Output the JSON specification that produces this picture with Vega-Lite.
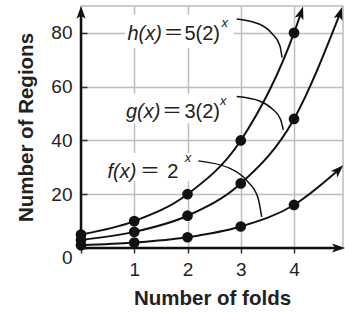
{
  "$schema": "https://vega.github.io/schema/vega-lite/v6.json",
  "width": 262,
  "height": 242,
  "autosize": "none",
  "padding": {"left": 81, "top": 6, "right": 2, "bottom": 64},
  "background": "white",
  "config": {
    "font": "Liberation Sans",
    "view": {"stroke": "#bdbdbd", "strokeWidth": 1.5},
    "axis": {
      "gridColor": "#bdbdbd", "gridWidth": 1.5, "gridOpacity": 1, "domain": false,
      "labelFont": "Liberation Sans", "labelFontSize": 19, "labelColor": "#222",
      "tickColor": "#333", "tickWidth": 1.5,
      "titleFont": "Liberation Sans", "titleFontSize": 20.5, "titleFontWeight": "bold", "titleColor": "#222",
      "labelOverlap": false, "labelFlush": false
    }
  },
  "datasets": {
    "curve": [
      {"fn": "h", "x": 0, "y": 5, "kind": "pt"},
      {"fn": "h", "x": 1, "y": 10, "kind": "pt"},
      {"fn": "h", "x": 2, "y": 20, "kind": "pt"},
      {"fn": "h", "x": 3, "y": 40, "kind": "pt"},
      {"fn": "h", "x": 4, "y": 80, "kind": "pt"},
      {"fn": "h", "x": 4.126, "y": 87.1, "kind": "end"},
      {"fn": "g", "x": 0, "y": 3, "kind": "pt"},
      {"fn": "g", "x": 1, "y": 6, "kind": "pt"},
      {"fn": "g", "x": 2, "y": 12, "kind": "pt"},
      {"fn": "g", "x": 3, "y": 24, "kind": "pt"},
      {"fn": "g", "x": 4, "y": 48, "kind": "pt"},
      {"fn": "g", "x": 4.858, "y": 86.9, "kind": "end"},
      {"fn": "f", "x": 0, "y": 1, "kind": "pt"},
      {"fn": "f", "x": 1, "y": 2, "kind": "pt"},
      {"fn": "f", "x": 2, "y": 4, "kind": "pt"},
      {"fn": "f", "x": 3, "y": 8, "kind": "pt"},
      {"fn": "f", "x": 4, "y": 16, "kind": "pt"},
      {"fn": "f", "x": 4.824, "y": 28.8, "kind": "end"}
    ],
    "labels": [
      {"fn": "h", "name": "h(x)", "rhs": "5(2)", "x": 0.873, "xe": 1.55, "xr": 2.61, "xs": 2.64, "y": 77.3, "ys": 82.2, "bx1": 0.83, "bx2": 2.87, "by1": 74.4, "by2": 86.7},
      {"fn": "g", "name": "g(x)", "rhs": "3(2)", "x": 0.845, "xe": 1.52, "xr": 2.61, "xs": 2.61, "y": 48.3, "ys": 53.2, "bx1": 0.79, "bx2": 2.85, "by1": 46.4, "by2": 57.5},
      {"fn": "f", "name": "f(x)", "rhs": "2", "x": 0.498, "xe": 1.11, "xr": 1.827, "xs": 1.95, "y": 25.9, "ys": 32.1, "bx1": 0.47, "bx2": 2.14, "by1": 24.9, "by2": 35.3}
    ],
    "leaders": [
      {"fn": "h", "i": 0, "x": 2.924, "y": 85.2},
      {"fn": "h", "i": 1, "x": 3.356, "y": 83.2},
      {"fn": "h", "i": 2, "x": 3.585, "y": 79.8},
      {"fn": "h", "i": 3, "x": 3.735, "y": 75.2},
      {"fn": "h", "i": 4, "x": 3.775, "y": 70.8},
      {"fn": "g", "i": 0, "x": 2.924, "y": 56.3},
      {"fn": "g", "i": 1, "x": 3.362, "y": 54.6},
      {"fn": "g", "i": 2, "x": 3.594, "y": 51.7},
      {"fn": "g", "i": 3, "x": 3.746, "y": 47.9},
      {"fn": "g", "i": 4, "x": 3.799, "y": 43.9},
      {"fn": "f", "i": 0, "x": 2.203, "y": 32.4},
      {"fn": "f", "i": 1, "x": 2.798, "y": 29.6},
      {"fn": "f", "i": 2, "x": 3.116, "y": 25.0},
      {"fn": "f", "i": 3, "x": 3.322, "y": 18.8},
      {"fn": "f", "i": 4, "x": 3.393, "y": 11.6}
    ],
    "axes": [
      {"axis": "y", "x": 0, "y": 0, "x2": 0, "y2": 87.2},
      {"axis": "x", "x": 0, "y": 0, "x2": 4.815, "y2": 0}
    ]
  },
  "layer": [
    {
      "data": {"name": "labels"},
      "mark": {"type": "rect", "color": "white"},
      "encoding": {
        "x": {"field": "bx1", "type": "quantitative",
          "scale": {"domain": [0, 4.92], "nice": false, "zero": false},
          "axis": {"title": "Number of folds", "values": [0, 0.5, 1, 1.5, 2, 2.5, 3, 3.5, 4, 4.5],
            "labelExpr": "datum.value >= 1 && datum.value % 1 === 0 ? format(datum.value, 'd') : ''",
            "tickSize": 5, "labelPadding": 7, "titlePadding": 9, "grid": true}},
        "x2": {"field": "bx2"},
        "y": {"field": "by1", "type": "quantitative",
          "scale": {"domain": [0, 90], "nice": false, "zero": false},
          "axis": {"title": "Number of Regions", "values": [0, 10, 20, 30, 40, 50, 60, 70, 80],
            "labelExpr": "datum.value % 20 === 0 ? datum.label : ''",
            "tickSize": -6, "labelPadding": 15, "titlePadding": 14, "grid": true,
            "labelBaseline": {"condition": {"test": "datum.value === 0", "value": "top"}, "value": "middle"}}},
        "y2": {"field": "by2"}
      }
    },
    {
      "data": {"name": "leaders"},
      "mark": {"type": "line", "color": "#111", "strokeWidth": 1.5, "interpolate": "monotone"},
      "encoding": {
        "x": {"field": "x", "type": "quantitative"},
        "y": {"field": "y", "type": "quantitative"},
        "detail": {"field": "fn"},
        "order": {"field": "i"}
      }
    },
    {
      "data": {"name": "curve"},
      "mark": {"type": "line", "color": "#111", "strokeWidth": 2, "interpolate": "monotone"},
      "encoding": {
        "x": {"field": "x", "type": "quantitative"},
        "y": {"field": "y", "type": "quantitative"},
        "detail": {"field": "fn"},
        "order": {"field": "x"}
      }
    },
    {
      "data": {"name": "curve"},
      "transform": [{"filter": "datum.kind === 'pt'"}],
      "mark": {"type": "circle", "color": "#111", "opacity": 1, "size": 115},
      "encoding": {
        "x": {"field": "x", "type": "quantitative"},
        "y": {"field": "y", "type": "quantitative"}
      }
    },
    {
      "data": {"name": "curve"},
      "transform": [{"filter": "datum.kind === 'end' && datum.fn === 'h'"}],
      "mark": {"type": "point", "shape": "M0,-1L0.6,0.7L0,0.3L-0.6,0.7Z", "filled": true, "color": "#111", "opacity": 1, "size": 230, "angle": 18},
      "encoding": {"x": {"field": "x", "type": "quantitative"}, "y": {"field": "y", "type": "quantitative"}}
    },
    {
      "data": {"name": "curve"},
      "transform": [{"filter": "datum.kind === 'end' && datum.fn === 'g'"}],
      "mark": {"type": "point", "shape": "M0,-1L0.6,0.7L0,0.3L-0.6,0.7Z", "filled": true, "color": "#111", "opacity": 1, "size": 230, "angle": 18},
      "encoding": {"x": {"field": "x", "type": "quantitative"}, "y": {"field": "y", "type": "quantitative"}}
    },
    {
      "data": {"name": "curve"},
      "transform": [{"filter": "datum.kind === 'end' && datum.fn === 'f'"}],
      "mark": {"type": "point", "shape": "M0,-1L0.6,0.7L0,0.3L-0.6,0.7Z", "filled": true, "color": "#111", "opacity": 1, "size": 230, "angle": 45},
      "encoding": {"x": {"field": "x", "type": "quantitative"}, "y": {"field": "y", "type": "quantitative"}}
    },
    {
      "data": {"name": "axes"},
      "mark": {"type": "rule", "color": "#111", "strokeWidth": 2.5},
      "encoding": {
        "x": {"field": "x", "type": "quantitative"},
        "y": {"field": "y", "type": "quantitative"},
        "x2": {"field": "x2"},
        "y2": {"field": "y2"}
      }
    },
    {
      "data": {"name": "axes"},
      "transform": [{"filter": "datum.axis === 'y'"}],
      "mark": {"type": "point", "shape": "M0,-1L0.6,0.7L0,0.3L-0.6,0.7Z", "filled": true, "color": "#111", "opacity": 1, "size": 230, "angle": 0},
      "encoding": {"x": {"field": "x2", "type": "quantitative"}, "y": {"field": "y2", "type": "quantitative"}}
    },
    {
      "data": {"name": "axes"},
      "transform": [{"filter": "datum.axis === 'x'"}],
      "mark": {"type": "point", "shape": "M0,-1L0.6,0.7L0,0.3L-0.6,0.7Z", "filled": true, "color": "#111", "opacity": 1, "size": 230, "angle": 90},
      "encoding": {"x": {"field": "x2", "type": "quantitative"}, "y": {"field": "y2", "type": "quantitative"}}
    },
    {
      "data": {"name": "labels"},
      "mark": {"type": "text", "align": "left", "baseline": "alphabetic", "fontSize": 20, "fontStyle": "italic", "color": "#222"},
      "encoding": {
        "x": {"field": "x", "type": "quantitative"},
        "y": {"field": "y", "type": "quantitative"},
        "text": {"field": "name"}
      }
    },
    {
      "data": {"name": "labels"},
      "mark": {"type": "text", "align": "left", "baseline": "alphabetic", "fontSize": 20, "font": "Noto Sans CJK SC", "color": "#222"},
      "encoding": {
        "x": {"field": "xe", "type": "quantitative"},
        "y": {"field": "y", "type": "quantitative"},
        "text": {"value": "＝"}
      }
    },
    {
      "data": {"name": "labels"},
      "mark": {"type": "text", "align": "right", "baseline": "alphabetic", "fontSize": 20, "color": "#222"},
      "encoding": {
        "x": {"field": "xr", "type": "quantitative"},
        "y": {"field": "y", "type": "quantitative"},
        "text": {"field": "rhs"}
      }
    },
    {
      "data": {"name": "labels"},
      "mark": {"type": "text", "align": "left", "baseline": "alphabetic", "fontSize": 13, "fontStyle": "italic", "color": "#222"},
      "encoding": {
        "x": {"field": "xs", "type": "quantitative"},
        "y": {"field": "ys", "type": "quantitative"},
        "text": {"value": "x"}
      }
    }
  ]
}
